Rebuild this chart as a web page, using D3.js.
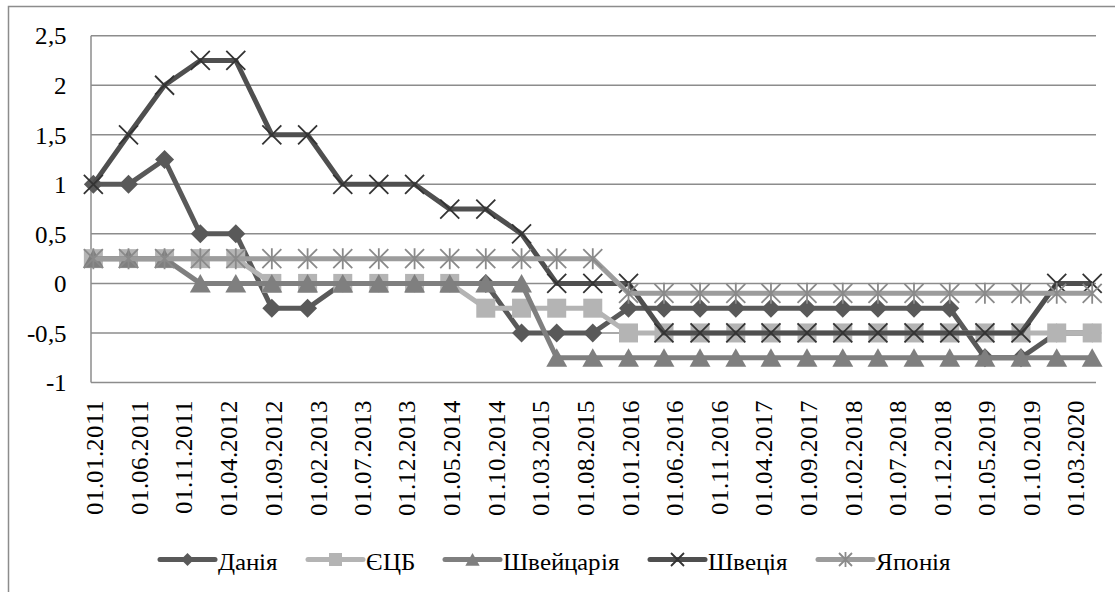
<!DOCTYPE html>
<html>
<head>
<meta charset="utf-8">
<script src="https://cdn.jsdelivr.net/npm/d3@7/dist/d3.min.js"></script>
<style>
  @font-face { font-family: "ChartSerif"; src: local("Liberation Serif"), local("LiberationSerif"), local("Times New Roman"); }
  body { margin: 0; }
</style>
</head>
<body>
<script>
// dates of the points (every 4 months)
var dates = ["01.01.2011","01.05.2011","01.09.2011","01.01.2012","01.05.2012","01.09.2012",
  "01.01.2013","01.05.2013","01.09.2013","01.01.2014","01.05.2014","01.09.2014",
  "01.01.2015","01.05.2015","01.09.2015","01.01.2016","01.05.2016","01.09.2016",
  "01.01.2017","01.05.2017","01.09.2017","01.01.2018","01.05.2018","01.09.2018",
  "01.01.2019","01.05.2019","01.09.2019","01.01.2020","01.05.2020"];

// axis labels (every 5 months)
var tickLabels = ["01.01.2011","01.06.2011","01.11.2011","01.04.2012","01.09.2012","01.02.2013",
  "01.07.2013","01.12.2013","01.05.2014","01.10.2014","01.03.2015","01.08.2015","01.01.2016",
  "01.06.2016","01.11.2016","01.04.2017","01.09.2017","01.02.2018","01.07.2018","01.12.2018",
  "01.05.2019","01.10.2019","01.03.2020"];

var yTicks = [-1, -0.5, 0, 0.5, 1, 1.5, 2, 2.5];

var denmark = [1,1,1.25,0.5,0.5,-0.25,-0.25,0,0,0,0,0,-0.5,-0.5,-0.5,
  -0.25,-0.25,-0.25,-0.25,-0.25,-0.25,-0.25,-0.25,-0.25,-0.25,-0.75,-0.75,-0.5,-0.5];
var ecb = [0.25,0.25,0.25,0.25,0.25,0,0,0,0,0,0,-0.25,-0.25,-0.25,-0.25,
  -0.5,-0.5,-0.5,-0.5,-0.5,-0.5,-0.5,-0.5,-0.5,-0.5,-0.5,-0.5,-0.5,-0.5];
var swiss = [0.25,0.25,0.25,0,0,0,0,0,0,0,0,0,0,-0.75,-0.75,
  -0.75,-0.75,-0.75,-0.75,-0.75,-0.75,-0.75,-0.75,-0.75,-0.75,-0.75,-0.75,-0.75,-0.75];
var sweden = [1,1.5,2,2.25,2.25,1.5,1.5,1,1,1,0.75,0.75,0.5,0,0,0,
  -0.5,-0.5,-0.5,-0.5,-0.5,-0.5,-0.5,-0.5,-0.5,-0.5,-0.5,0,0];
var japan = [0.25,0.25,0.25,0.25,0.25,0.25,0.25,0.25,0.25,0.25,0.25,0.25,0.25,0.25,0.25,
  -0.1,-0.1,-0.1,-0.1,-0.1,-0.1,-0.1,-0.1,-0.1,-0.1,-0.1,-0.1,-0.1,-0.1];

var seriesNames = ["Данія", "ЄЦБ", "Швейцарія", "Швеція", "Японія"];

var parse = d3.timeParse("%d.%m.%Y");
var fontStack = "ChartSerif, 'Liberation Serif', 'Times New Roman', serif";

var svg = d3.select("body").append("svg")
  .attr("width", 1115)
  .attr("height", 592)
  .attr("font-family", fontStack);

// outer chart border
svg.append("rect")
  .attr("x", 8.5).attr("y", 6.5)
  .attr("width", 1300).attr("height", 800)
  .style("fill", "none").style("stroke", "#8c8c8c").style("stroke-width", 1.5);

var pLeft = 91, pRight = 1096, pTop = 35.7, pBottom = 382.5;

var x = d3.scaleTime()
  .domain([new Date(2010, 11, 24), new Date(2020, 4, 14)])
  .range([pLeft, pRight]);
var y = d3.scaleLinear().domain([-1, 2.5]).range([pBottom, pTop]);

// gridlines
svg.append("g").selectAll("line").data(yTicks).enter().append("line")
  .attr("x1", pLeft).attr("x2", pRight)
  .attr("y1", function(d) { return y(d); }).attr("y2", function(d) { return y(d); })
  .style("stroke", "#8c8c8c").style("stroke-width", 1.5);

svg.append("line")
  .attr("x1", pLeft).attr("x2", pLeft).attr("y1", pTop).attr("y2", pBottom)
  .style("stroke", "#8c8c8c").style("stroke-width", 1.5);

// y labels
svg.append("g").selectAll("text").data(yTicks).enter().append("text")
  .attr("x", 67).attr("y", function(d) { return y(d); })
  .attr("dy", "0.35em")
  .attr("text-anchor", "end")
  .attr("font-family", fontStack)
  .style("font-size", "25px")
  .text(function(d) { return String(d).replace(".", ","); });

// x labels
svg.append("g").selectAll("text").data(tickLabels).enter().append("text")
  .attr("transform", function(d) { return "translate(" + x(parse(d)) + "," + (pBottom + 17) + ") rotate(-90)"; })
  .attr("dy", "0.4em")
  .attr("text-anchor", "end")
  .attr("font-family", fontStack)
  .style("font-size", "25px")
  .text(function(d) { return d; });

// marker shapes
function diamond(s) { return "M0," + (-s) + "L" + s + ",0L0," + s + "L" + (-s) + ",0Z"; }
function square(s) { return "M" + (-s) + "," + (-s) + "h" + (2 * s) + "v" + (2 * s) + "h" + (-2 * s) + "Z"; }
function triangle(s) { return "M0," + (-s) + "L" + (s * 1.1) + "," + (s * 0.95) + "L" + (-s * 1.1) + "," + (s * 0.95) + "Z"; }
function cross(s) { return "M" + (-s) + "," + (-s) + "L" + s + "," + s + "M" + (-s) + "," + s + "L" + s + "," + (-s); }
function asterisk(s) { return cross(s) + "M0," + (-s - 1) + "L0," + (s + 1); }

var series = [
  { name: seriesNames[0], values: denmark, line: "#595959", mark: diamond, fill: "#595959", stroke: "none", sw: 0 },
  { name: seriesNames[1], values: ecb, line: "#b4b4b4", mark: square, fill: "#b4b4b4", stroke: "none", sw: 0 },
  { name: seriesNames[2], values: swiss, line: "#7f7f7f", mark: triangle, fill: "#7f7f7f", stroke: "none", sw: 0 },
  { name: seriesNames[3], values: sweden, line: "#4f4f4f", mark: cross, fill: "none", stroke: "#333333", sw: 1.8 },
  { name: seriesNames[4], values: japan, line: "#9c9c9c", mark: asterisk, fill: "none", stroke: "#8a8a8a", sw: 1.8 }
];

var line = d3.line()
  .x(function(d) { return x(parse(d.date)); })
  .y(function(d) { return y(d.value); });

series.forEach(function(s) {
  var pts = dates.map(function(d, i) { return { date: d, value: s.values[i] }; });
  var g = svg.append("g");
  g.append("path")
    .attr("d", line(pts))
    .style("fill", "none")
    .style("stroke", s.line)
    .style("stroke-width", 5)
    .style("stroke-linejoin", "round");
  g.selectAll("path.m").data(pts).enter().append("path")
    .attr("class", "m")
    .attr("transform", function(d) { return "translate(" + x(parse(d.date)) + "," + y(d.value) + ")"; })
    .attr("d", s.mark(9.5))
    .style("fill", s.fill)
    .style("stroke", s.stroke)
    .style("stroke-width", s.sw);
});

// legend
var lx = 160, ly = 559.5;
series.forEach(function(s) {
  var g = svg.append("g");
  g.append("line")
    .attr("x1", lx).attr("x2", lx + 55).attr("y1", ly).attr("y2", ly)
    .style("stroke", s.line).style("stroke-width", 5).style("stroke-linecap", "round");
  g.append("path")
    .attr("transform", "translate(" + (lx + 27.5) + "," + ly + ")")
    .attr("d", s.mark(6.5))
    .style("fill", s.fill).style("stroke", s.stroke).style("stroke-width", s.sw);
  var t = g.append("text")
    .attr("x", lx + 58).attr("y", ly + 10.5)
    .attr("font-family", fontStack)
    .style("font-size", "25px")
    .text(s.name);
  lx += 58 + t.node().getComputedTextLength() + 30;
});
</script>
</body>
</html>
